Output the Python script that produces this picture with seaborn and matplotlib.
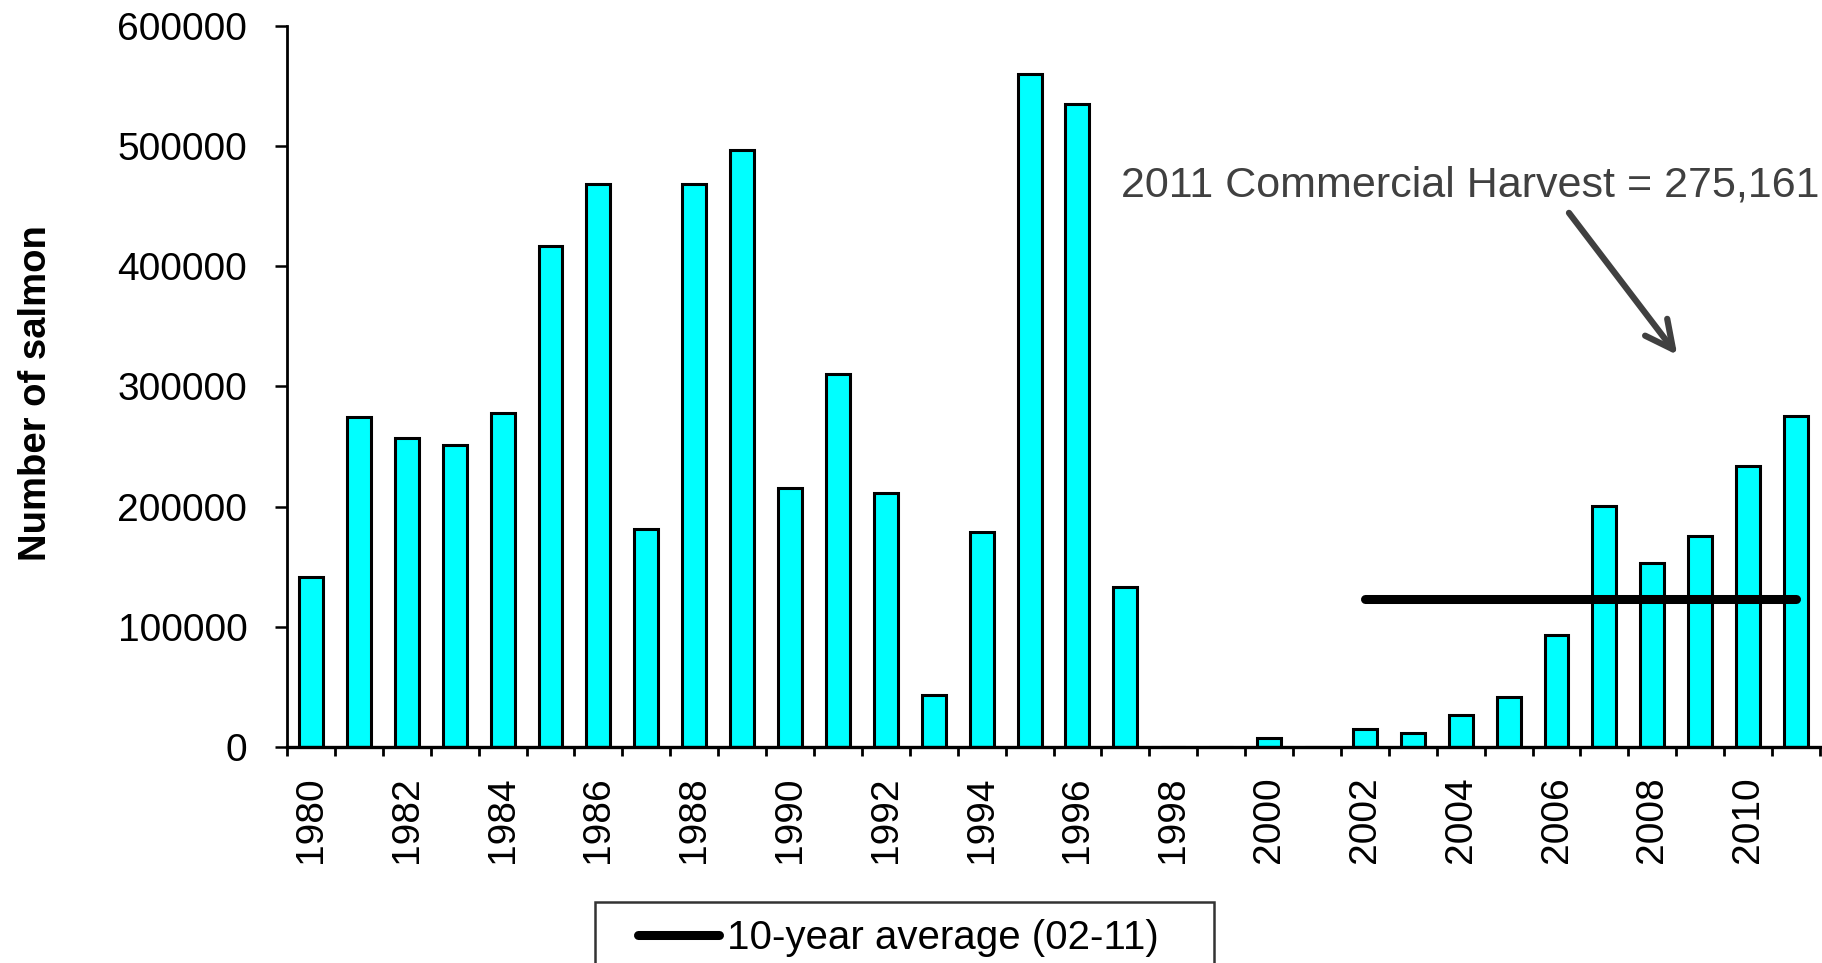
import numpy as np
import pandas as pd
import matplotlib
matplotlib.use("Agg")
import matplotlib.pyplot as plt
from matplotlib.legend_handler import HandlerLine2D
import seaborn as sns

# ---- data ----
years = list(range(1980, 2012))
harvest = [141000, 274400, 257000, 251000, 278000, 417000, 468600, 181600,
           468600, 496600, 215500, 310000, 211600, 43500, 178700, 559400,
           535000, 133300, 0, 0, 7700, 0, 15200, 11600,
           26600, 41800, 93400, 200500, 153000, 175500, 234000, 275161]
avg_years = list(range(2002, 2012))
avg_values = [122700] * 10
avg_label = "10-year average (02-11)"
ytick_values = [0, 100000, 200000, 300000, 400000, 500000, 600000]
ylabel = "Number of salmon"
note = "2011 Commercial Harvest = 275,161"

sns.set_style("white")
plt.rcParams["font.family"] = ["Liberation Sans", "DejaVu Sans"]
plt.rcParams["text.color"] = "black"
plt.rcParams["axes.labelcolor"] = "black"
plt.rcParams["xtick.color"] = "black"
plt.rcParams["ytick.color"] = "black"

fig = plt.figure(figsize=(18.22, 9.63), dpi=100)
ax = fig.add_axes([287 / 1822, 1 - 747 / 963, (1820 - 287) / 1822, (747 - 25.6) / 963])

df = pd.DataFrame({"year": [str(y) for y in years], "harvest": harvest})
sns.barplot(data=df, x="year", y="harvest", order=df["year"].tolist(),
            color="#00FFFF", saturation=1, edgecolor="black", linewidth=2.2,
            width=0.5, ax=ax, zorder=2)

pos = [years.index(y) for y in avg_years]
sns.lineplot(x=pos, y=avg_values, ax=ax, color="black", lw=6.5,
             solid_capstyle="round", zorder=3, label=avg_label, legend=False)
avg_line = ax.lines[-1]

ax.set_xlim(-0.5, len(years) - 0.5)
ax.set_ylim(0, 600000)

# y axis
ax.set_yticks(ytick_values)
ax.set_yticklabels([str(v) for v in ytick_values], fontsize=28)
ax.tick_params(axis="y", left=True, direction="out", length=8.6, width=1.8,
               pad=20, color="black", labelcolor="black")

# x axis: labels every other year, ticks at category boundaries
ax.set_xticks(range(0, len(years), 2))
ax.set_xticklabels([str(y) for y in years[::2]], rotation=90, fontsize=28)
ax.set_xticks(np.arange(-0.5, len(years), 1), minor=True)
ax.tick_params(axis="x", which="major", bottom=True, length=0, pad=21, labelcolor="black")
ax.tick_params(axis="x", which="minor", bottom=True, direction="out", length=6.7,
               width=2, color="black")
ax.set_xlabel("")

ax.set_ylabel(ylabel, fontsize=27.5, fontweight="bold", color="black")
ax.yaxis.set_label_coords(-0.152, 0.49)

for s in ["top", "right"]:
    ax.spines[s].set_visible(False)
ax.spines["left"].set_linewidth(2)
ax.spines["bottom"].set_linewidth(2.4)
ax.spines["left"].set_color("black")
ax.spines["bottom"].set_color("black")

# annotation
ax.text(16.9, 466700, note, fontsize=31, color="#404040", ha="left", va="center")
ax.annotate("", xy=(28.52, 326100), xytext=(26.26, 444250),
            arrowprops=dict(arrowstyle="->,head_length=1.0,head_width=0.5",
                            lw=4.5, color="#404040", shrinkA=0, shrinkB=0,
                            mutation_scale=20, capstyle="round"))

# legend below axes
leg = fig.legend(handles=[avg_line], labels=[avg_label], loc="upper left",
                 bbox_to_anchor=(595 / 1822, 1 - 902 / 963, (1214 - 595) / 1822, 0.0),
                 mode="expand", borderaxespad=0, fontsize=29, frameon=True,
                 fancybox=False, edgecolor="black", handlelength=2.66,
                 handletextpad=0.2, borderpad=0.42,
                 handler_map={avg_line: HandlerLine2D(xpad=0.65)})
leg.get_frame().set_linewidth(1.8)

fig.savefig("out.png", dpi=100)
